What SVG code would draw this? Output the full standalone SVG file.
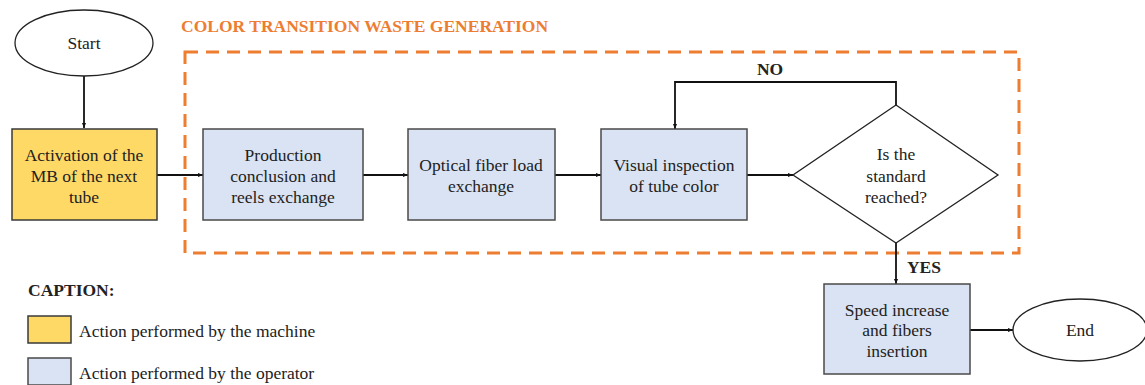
<svg xmlns="http://www.w3.org/2000/svg" width="1145" height="385" viewBox="0 0 1145 385">
<style>
text{font-family:"Liberation Serif","Times New Roman",serif;font-size:17.5px;fill:#222;text-anchor:middle;dominant-baseline:central}
.bold{font-weight:bold}
.term{fill:#fff;stroke:#222;stroke-width:1.3}
.mach{fill:#FFD966;stroke:#3a3a3a;stroke-width:1.5}
.oper{fill:#DAE3F3;stroke:#4a4a4a;stroke-width:1.5}
.conn{fill:none;stroke:#111;stroke-width:1.8}
</style>
<defs>
<marker id="ah" viewBox="0 0 10 10" refX="10" refY="5" markerWidth="5" markerHeight="5" orient="auto" markerUnits="userSpaceOnUse">
<path d="M0,1 L10,5 L0,9 Z" fill="#111"/>
</marker>
</defs>
<g id="waste-region">
<rect x="185" y="52" width="834" height="201" fill="none" stroke="#ED7D31" stroke-width="3" stroke-dasharray="13,8"/>
<text x="181" y="26" class="bold" style="fill:#ED7D31;text-anchor:start">COLOR TRANSITION WASTE GENERATION</text>
</g>
<g id="connectors">
<path class="conn" d="M84,76 L84,128" marker-end="url(#ah)"/>
<path class="conn" d="M157,175 L203,175" marker-end="url(#ah)"/>
<path class="conn" d="M363,175 L408,175" marker-end="url(#ah)"/>
<path class="conn" d="M555,175 L601,175" marker-end="url(#ah)"/>
<path class="conn" d="M747,175 L793,175" marker-end="url(#ah)"/>
<path class="conn" d="M896,105 L896,82 L675,82 L675,129" marker-end="url(#ah)"/>
<path class="conn" d="M896,243 L896,284" marker-end="url(#ah)"/>
<path class="conn" d="M970,330 L1013,330" marker-end="url(#ah)"/>
<text x="770" y="69" class="bold">NO</text>
<text x="924" y="267" class="bold">YES</text>
</g>
<g id="start">
<ellipse class="term" cx="84" cy="43" rx="69" ry="33"/>
<text x="84" y="43">Start</text>
</g>
<g id="activation">
<rect class="mach" x="12" y="129" width="145" height="91"/>
<text x="84" y="155">Activation of the</text>
<text x="84" y="176">MB of the next</text>
<text x="84" y="197">tube</text>
</g>
<g id="production">
<rect class="oper" x="203" y="129" width="160" height="91"/>
<text x="283" y="155">Production</text>
<text x="283" y="176">conclusion and</text>
<text x="283" y="197">reels exchange</text>
</g>
<g id="optical">
<rect class="oper" x="408" y="129" width="147" height="91"/>
<text x="481" y="165">Optical fiber load</text>
<text x="481" y="186">exchange</text>
</g>
<g id="visual">
<rect class="oper" x="601" y="129" width="146" height="91"/>
<text x="674" y="165">Visual inspection</text>
<text x="674" y="186">of tube color</text>
</g>
<g id="decision">
<polygon class="term" points="896,105 998,175 896,243 793,175"/>
<text x="896" y="154">Is the</text>
<text x="896" y="176">standard</text>
<text x="896" y="197">reached?</text>
</g>
<g id="speed">
<rect class="oper" x="824" y="284" width="146" height="90"/>
<text x="897" y="310">Speed increase</text>
<text x="897" y="330">and fibers</text>
<text x="897" y="351">insertion</text>
</g>
<g id="end">
<ellipse class="term" cx="1080" cy="330" rx="67" ry="31"/>
<text x="1080" y="330">End</text>
</g>
<g id="caption">
<text x="28" y="290" class="bold" style="text-anchor:start">CAPTION:</text>
<rect class="mach" x="28" y="316" width="43" height="27"/>
<text x="79" y="331" style="text-anchor:start">Action performed by the machine</text>
<rect class="oper" x="28" y="358" width="43" height="27"/>
<text x="79" y="373" style="text-anchor:start">Action performed by the operator</text>
</g>
</svg>
